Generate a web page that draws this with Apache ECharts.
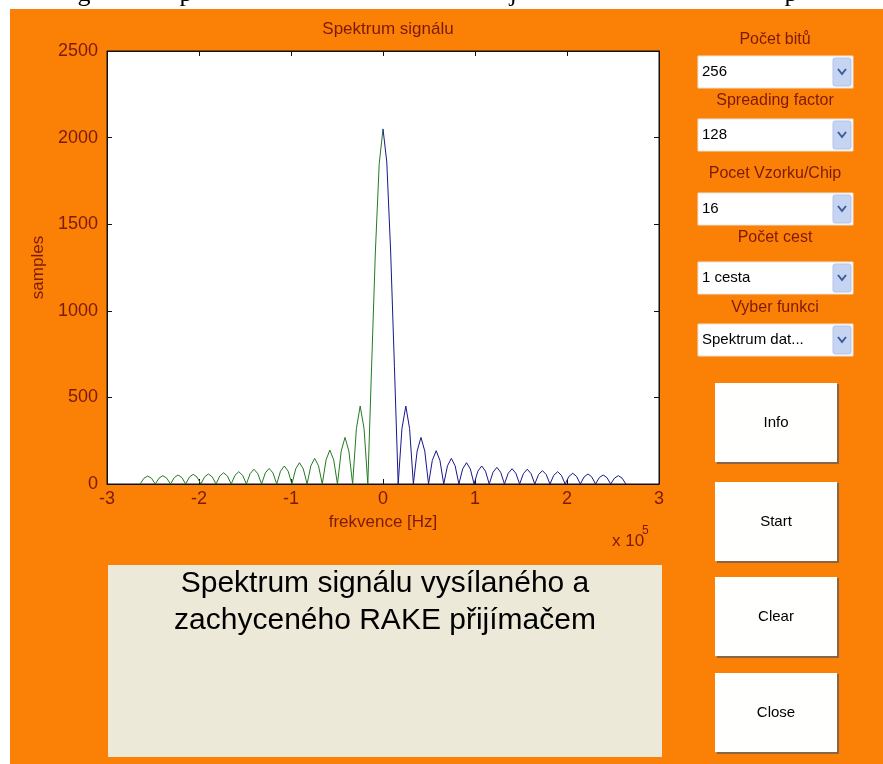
<!DOCTYPE html>
<html>
<head>
<meta charset="utf-8">
<title>Spektrum signálu</title>
<script src="https://cdn.jsdelivr.net/npm/echarts@6/dist/echarts.min.js"></script>
<style>
  html, body { margin: 0; padding: 0; background: #fff; }
  #chart { width: 883px; height: 764px; }
</style>
</head>
<body>
<div id="chart"></div>
<script>
// frekvence (x 10^5 Hz), kladná strana; záporná strana je zrcadlo
var freq = [
  0.000, 0.041, 0.083, 0.124, 0.165,
  0.206, 0.248, 0.289, 0.330,
  0.371, 0.413, 0.454, 0.495,
  0.536, 0.578, 0.619, 0.660,
  0.701, 0.743, 0.784, 0.825,
  0.866, 0.908, 0.949, 0.990,
  1.031, 1.073, 1.114, 1.155,
  1.196, 1.238, 1.279, 1.320,
  1.361, 1.403, 1.444, 1.485,
  1.526, 1.568, 1.609, 1.650,
  1.691, 1.733, 1.774, 1.815,
  1.856, 1.898, 1.939, 1.980,
  2.021, 2.063, 2.104, 2.145,
  2.186, 2.228, 2.269, 2.310,
  2.351, 2.393, 2.434, 2.475,
  2.516, 2.558, 2.599, 2.640
];
// prijaty signal (modra), f >= 0
var blueVals = [
  2050, 1860, 1345, 680, 0,
  320, 450, 320, 0,
  190, 269, 190, 0,
  136, 192, 136, 0,
  105, 148, 105, 0,
  87, 123, 87, 0,
  74, 104, 74, 0,
  68, 96, 68, 0,
  62, 88, 62, 0,
  60, 85, 60, 0,
  55, 77, 55, 0,
  50, 71, 50, 0,
  44, 62, 44, 0,
  41, 58, 41, 0,
  37, 52, 37, 0,
  34, 48, 34, 0
];
// vysilany signal (zelena), f <= 0, od nuly ven
var greenVals = [
  2050, 1850, 1340, 675, 0,
  320, 450, 320, 0,
  190, 269, 190, 0,
  139, 196, 139, 0,
  105, 148, 105, 0,
  87, 123, 87, 0,
  74, 104, 74, 0,
  64, 90, 64, 0,
  60, 85, 60, 0,
  50, 71, 50, 0,
  46, 65, 46, 0,
  41, 58, 41, 0,
  40, 56, 40, 0,
  37, 52, 37, 0,
  34, 48, 34, 0,
  33, 46, 33, 0
].slice(0, 65);
var xTicks = [-3, -2, -1, 0, 1, 2, 3];
var yTicks = [0, 500, 1000, 1500, 2000, 2500];

var popupLabels = ['Počet bitů', 'Spreading factor', 'Pocet Vzorku/Chip', 'Počet cest', 'Vyber funkci'];
var popupValues = ['256', '128', '16', '1 cesta', 'Spektrum dat...'];
var buttonLabels = ['Info', 'Start', 'Clear', 'Close'];

var ORANGE = '#fb8006';
var MAROON = '#7c1a08';
var FONT = 'Liberation Sans, Arial, sans-serif';

var greenData = freq.map(function (f, i) { return [-f, greenVals[i]]; });
var blueData = freq.map(function (f, i) { return [f, blueVals[i]]; });

var chart = echarts.init(document.getElementById('chart'), null, { renderer: 'canvas' });

// ovladaci prvky vpravo
var labelY = [40, 101, 174, 238, 308];
var popupY = [56, 119, 193, 262, 324];
var buttonY = [383, 482, 577, 673];
var gui = [];

// bily okraj a utrzeny radek textu nahore
gui.push({ type: 'rect', shape: { x: 0, y: 0, width: 883, height: 9 }, style: { fill: '#fff' }, z: -5 });
gui.push({ type: 'rect', shape: { x: 0, y: 0, width: 10, height: 764 }, style: { fill: '#fff' }, z: -5 });
[['g', 84], ['p', 186], ['j', 513], ['p', 791]].forEach(function (c) {
  gui.push({ type: 'text', x: c[1], y: 7, z: -4, style: { text: c[0], font: '26px "Liberation Serif", serif', fill: '#000', textAlign: 'center', textVerticalAlign: 'bottom' } });
});
gui.push({ type: 'rect', shape: { x: 10, y: 9, width: 873, height: 6 }, style: { fill: ORANGE }, z: -3 });

popupLabels.forEach(function (t, i) {
  gui.push({ type: 'text', x: 775, y: labelY[i], style: { text: t, font: '16px ' + FONT, fill: MAROON, textAlign: 'center', textVerticalAlign: 'middle' } });
  var y = popupY[i];
  gui.push({ type: 'rect', shape: { x: 698, y: y, width: 155, height: 32 }, style: { fill: '#fff', stroke: '#e8e4dc', lineWidth: 1 } });
  gui.push({ type: 'rect', shape: { x: 833, y: y + 2, width: 18, height: 28, r: 2 }, style: { fill: '#c5d4f3', stroke: '#b3c3e6', lineWidth: 1 } });
  gui.push({ type: 'polyline', shape: { points: [[838, y + 13], [842, y + 18], [846, y + 13]] }, style: { stroke: '#3f5b96', lineWidth: 2, fill: null } });
  gui.push({ type: 'text', x: 702, y: y + 16, style: { text: popupValues[i], font: '15px ' + FONT, fill: '#000', textVerticalAlign: 'middle' } });
});

buttonLabels.forEach(function (t, i) {
  var y = buttonY[i];
  gui.push({ type: 'rect', shape: { x: 717, y: y + 1, width: 122, height: 80 }, style: { fill: '#8a6446' } });
  gui.push({ type: 'rect', shape: { x: 715, y: y, width: 122, height: 79 }, style: { fill: '#fffffd' } });
  gui.push({ type: 'text', x: 776, y: y + 40, style: { text: t, font: '15px ' + FONT, fill: '#000', textAlign: 'center', textVerticalAlign: 'middle' } });
});

// textove pole dole
gui.push({ type: 'rect', shape: { x: 108, y: 565, width: 554, height: 192 }, style: { fill: '#ece9d9' } });
gui.push({ type: 'text', x: 385, y: 584, style: { text: 'Spektrum signálu vysílaného a', font: '30px ' + FONT, fill: '#000', textAlign: 'center', textVerticalAlign: 'middle' } });
gui.push({ type: 'text', x: 385, y: 621, style: { text: 'zachyceného RAKE přijímačem', font: '30px ' + FONT, fill: '#000', textAlign: 'center', textVerticalAlign: 'middle' } });

// exponent osy x
gui.push({ type: 'text', x: 612, y: 541, style: { text: 'x 10', font: '17px ' + FONT, fill: MAROON, textVerticalAlign: 'middle' } });
gui.push({ type: 'text', x: 642, y: 531, style: { text: '5', font: '12px ' + FONT, fill: MAROON, textVerticalAlign: 'middle' } });

var boxAxis = {
  axisLine: { show: true, onZero: false, lineStyle: { color: '#111', width: 1 } },
  axisTick: { show: true, inside: true, length: 5, lineStyle: { color: '#111' } },
  axisLabel: { show: false },
  splitLine: { show: false }
};

var option = {
  backgroundColor: ORANGE,
  animation: false,
  title: {
    text: 'Spektrum signálu',
    left: 383,
    top: 16,
    textAlign: 'center',
    textStyle: { color: MAROON, fontSize: 17, fontWeight: 'normal', fontFamily: FONT }
  },
  grid: {
    left: 107, top: 51, right: 224, bottom: 280,
    show: true, backgroundColor: '#fff', borderColor: '#111', borderWidth: 1
  },
  xAxis: [
    Object.assign({
      type: 'value', min: xTicks[0], max: xTicks[xTicks.length - 1], interval: 1, position: 'bottom',
      name: 'frekvence [Hz]', nameLocation: 'middle', nameGap: 30,
      nameTextStyle: { color: MAROON, fontSize: 17, fontFamily: FONT }
    }, boxAxis, {
      axisLabel: { show: true, color: MAROON, fontSize: 18, fontFamily: FONT, margin: 6 }
    }),
    Object.assign({ type: 'value', min: -3, max: 3, interval: 1, position: 'top' }, boxAxis)
  ],
  yAxis: [
    Object.assign({
      type: 'value', min: yTicks[0], max: yTicks[yTicks.length - 1], interval: 500, position: 'left',
      name: 'samples', nameLocation: 'middle', nameGap: 58, nameRotate: 90,
      nameTextStyle: { color: MAROON, fontSize: 17, fontFamily: FONT }
    }, boxAxis, {
      axisLabel: { show: true, color: MAROON, fontSize: 18, fontFamily: FONT, margin: 9,
        formatter: function (v) { return String(v); } }
    }),
    Object.assign({ type: 'value', min: 0, max: 2500, interval: 500, position: 'right' }, boxAxis)
  ],
  series: [
    {
      name: 'vysílaný',
      type: 'line',
      data: greenData,
      showSymbol: false,
      lineStyle: { color: '#237a23', width: 1 },
      itemStyle: { color: '#237a23' }
    },
    {
      name: 'přijatý',
      type: 'line',
      data: blueData,
      showSymbol: false,
      lineStyle: { color: '#17178c', width: 1 },
      itemStyle: { color: '#17178c' }
    }
  ],
  graphic: { elements: gui }
};

chart.setOption(option);
</script>
</body>
</html>
